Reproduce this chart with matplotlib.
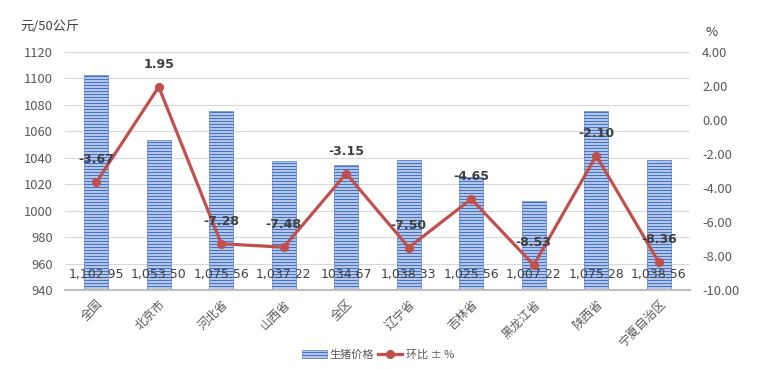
import matplotlib
matplotlib.use("Agg")
import matplotlib.pyplot as plt
import numpy as np

plt.rcParams['font.family'] = ['Noto Sans CJK SC', 'DejaVu Sans']
plt.rcParams['hatch.linewidth'] = 1.2

categories = ['全国', '北京市', '河北省', '山西省', '全区', '辽宁省', '吉林省', '黑龙江省', '陕西省', '宁夏自治区']
prices = [1102.95, 1053.50, 1075.56, 1037.22, 1034.67, 1038.33, 1025.56, 1007.22, 1075.28, 1038.56]
price_labels = ['1,102.95', '1,053.50', '1,075.56', '1,037.22', '1034.67', '1,038.33', '1,025.56', '1,007.22', '1,075.28', '1,038.56']
changes = [-3.67, 1.95, -7.28, -7.48, -3.15, -7.50, -4.65, -8.53, -2.10, -8.36]
change_labels = ['-3.67', '1.95', '-7.28', '-7.48', '-3.15', '-7.50', '-4.65', '-8.53', '-2.10', '-8.36']

left_ticks = [940, 960, 980, 1000, 1020, 1040, 1060, 1080, 1100, 1120]
right_ticks = [-10, -8, -6, -4, -2, 0, 2, 4]

DPI = 108
S = 100 / DPI  # keep pixel sizes as at 100 dpi

fig = plt.figure(figsize=(757 / DPI, 369 / DPI), dpi=DPI)
ax = fig.add_axes([65/757, 1-290/369, 625/757, 238/369])
ax2 = ax.twinx()

x = np.arange(len(categories))
txt = '#595959'

bars = ax.bar(x, prices, width=0.38, facecolor='white', edgecolor='#4472c4',
              hatch='------', linewidth=0.4, zorder=2, label='生猪价格')
ax.set_ylim(940, 1120)
ax.set_xlim(-0.5, len(categories) - 0.5)
ax.set_yticks(left_ticks)
ax.set_yticklabels([str(t) for t in left_ticks])
ax.grid(axis='y', color='#d9d9d9', linewidth=0.8 * S, zorder=0)
ax.set_axisbelow(True)
for s in ['top', 'right', 'left']:
    ax.spines[s].set_visible(False)
ax.spines['bottom'].set_color('#bfbfbf')
ax.spines['bottom'].set_linewidth(1.5 * S)
ax.tick_params(axis='y', length=0, labelsize=9.3 * S, labelcolor=txt, pad=8)
ax.tick_params(axis='x', length=0, labelsize=8.7 * S, labelcolor=txt, pad=5)
ax.set_xticks(x)
ax.set_xticklabels(categories, rotation=45, ha='right', rotation_mode='anchor')

for xi, lab in zip(x, price_labels):
    ax.text(xi, 952, lab, ha='center', va='center', fontsize=9 * S, color='#404040', zorder=5,
            family=['DejaVu Sans'])

line, = ax2.plot(x, changes, color='#c0504d', linewidth=2.3 * S, marker='o', markersize=5.5 * S,
                 zorder=4, label='环比±%')
ax2.set_ylim(-10, 4)
ax2.set_yticks(right_ticks)
ax2.set_yticklabels([f'{t:.2f}' for t in right_ticks])
for s in ['top', 'right', 'left', 'bottom']:
    ax2.spines[s].set_visible(False)
ax2.tick_params(axis='y', length=0, labelsize=9.3 * S, labelcolor=txt, pad=8)

for xi, v, lab in zip(x, changes, change_labels):
    ax2.annotate(lab, (xi, v), xytext=(0, 11.5 * S), textcoords='offset points', ha='center',
                 va='bottom', fontsize=9 * S, fontweight='bold', color='#404040', zorder=6,
                 family=['DejaVu Sans'])

fig.text(20/757, 1-27/369, '元/50公斤', fontsize=9.5 * S, color='#404040', va='center', ha='left')
fig.text(712/757, 1-32/369, '%', fontsize=9.5 * S, color='#404040', va='center', ha='center')

fig.legend([bars, line], ['生猪价格', '环比 ± %'], loc='center', bbox_to_anchor=(378/757, 1-355/369),
           ncol=2, frameon=False, fontsize=8 * S, labelcolor=txt, handlelength=2.2,
           columnspacing=0.3, handletextpad=0.3)

fig.savefig('out.png', dpi=DPI)
